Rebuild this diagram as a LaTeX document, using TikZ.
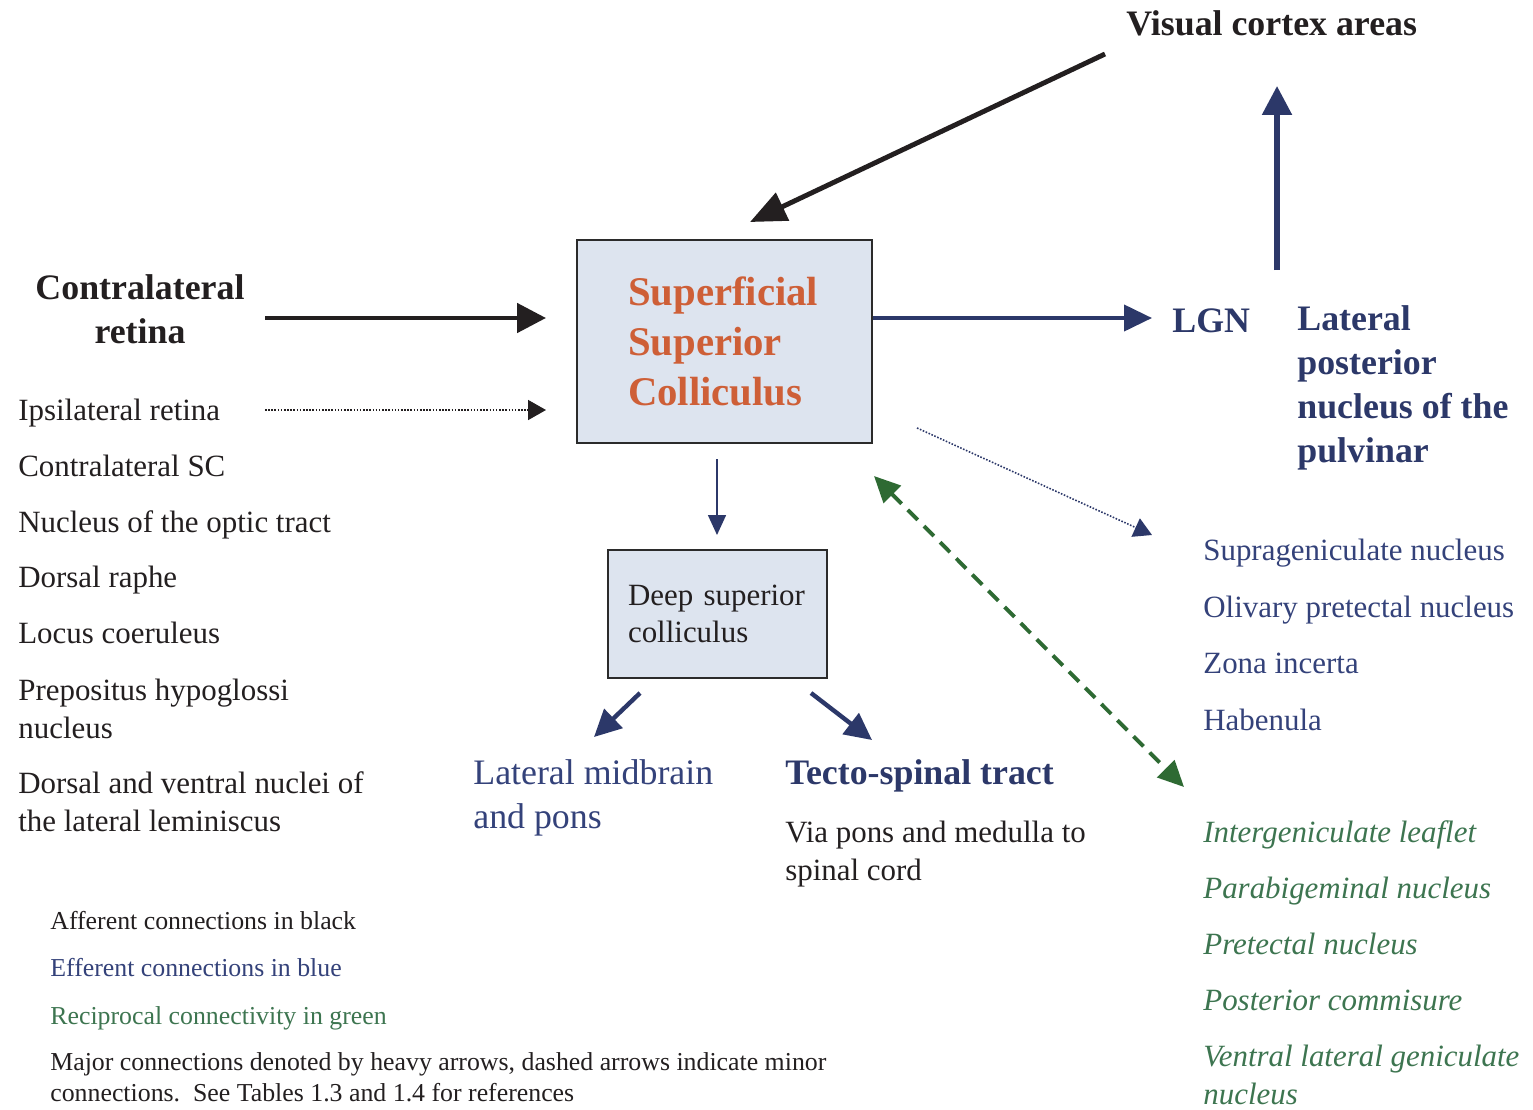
\documentclass[tikz,border=0pt]{standalone}
\usepackage{fontspec}
\setmainfont{Liberation Serif}
\usetikzlibrary{arrows.meta}
\definecolor{afferent}{HTML}{231F20}
\definecolor{efferent}{HTML}{2C3869}
\definecolor{efftext}{HTML}{34427A}
\definecolor{reciprocal}{HTML}{2E6A33}
\definecolor{rectext}{HTML}{3D7550}
\definecolor{sctext}{HTML}{CE5F37}
\definecolor{scfill}{HTML}{DDE4EF}
\definecolor{scedge}{HTML}{2B2B2B}

\newcommand{\fsnorm}{\fontsize{17.6}{21.5}\selectfont}
\newcommand{\fsbig}{\fontsize{20.4}{24.9}\selectfont}
\newcommand{\fshead}{\fontsize{23.2}{28.3}\selectfont}
\newcommand{\fsnote}{\fontsize{14.7}{17.6}\selectfont}

\begin{document}
\begin{tikzpicture}[x=0.02cm,y=-0.02cm,
  lbl/.style={anchor=base west,inner sep=0pt,align=left,font=\fsnorm,text=afferent},
  efflbl/.style={lbl,text=efftext},
  reclbl/.style={lbl,text=rectext,font=\fsnorm\itshape},
  bigeff/.style={lbl,text=efferent,font=\fsbig\bfseries},
  note/.style={lbl,font=\fsnote},
  scbox/.style={draw=scedge,line width=1.1pt,fill=scfill,inner sep=0pt,align=left},
  heavy/.style={line width=2.8pt,-{Triangle[length=0.58cm,width=0.58cm]}},
  minor/.style={line width=0.9pt,dash pattern=on 0.9pt off 0.9pt,-{Triangle[length=0.36cm,width=0.4cm]}},
  recip/.style={reciprocal,line width=2.2pt,dash pattern=on 8pt off 5pt,
    {Triangle[length=0.52cm,width=0.48cm]}-{Triangle[length=0.52cm,width=0.48cm]}}]
  \path[fill=white,use as bounding box] (0,0) rectangle (1533,1109);

  % colliculus boxes
  \node[scbox,minimum width=5.9cm,minimum height=4.06cm,text width=3.86cm,
    font=\fshead\bfseries,text=sctext] (ssc) at (724.5,341.5) {Superficial\\Superior\\Colliculus};
  \node[scbox,minimum width=4.38cm,minimum height=2.56cm,text width=3.58cm,
    font=\fsnorm,text=afferent] (dsc) at (717.5,614) {Deep superior\\colliculus};

  % afferents (multi-line labels sit on their last baseline)
  \node[anchor=base,inner sep=0pt,align=center,font=\fsbig\bfseries,text=afferent]
    (cret) at (140,343) {Contralateral\\retina};
  \node[lbl] (iret) at (18,420) {Ipsilateral retina};
  \node[lbl] (csc) at (18,476) {Contralateral SC};
  \node[lbl] (not) at (18,532) {Nucleus of the optic tract};
  \node[lbl] (draphe) at (18,587) {Dorsal raphe};
  \node[lbl] (lcoer) at (18,643) {Locus coeruleus};
  \node[lbl] (phyp) at (18,738) {Prepositus hypoglossi\\nucleus};
  \node[lbl] (dvll) at (18,831) {Dorsal and ventral nuclei of\\the lateral leminiscus};
  \node[lbl,font=\fsbig\bfseries] (vca) at (1126,35) {Visual cortex areas};

  % efferents
  \node[bigeff] (lgn) at (1172,332) {LGN};
  \node[bigeff] (lpn) at (1297,462) {Lateral\\posterior\\nucleus of the\\pulvinar};
  \node[efflbl] (supgen) at (1203,560) {Suprageniculate nucleus};
  \node[efflbl] (olipre) at (1203,617) {Olivary pretectal nucleus};
  \node[efflbl] (zona) at (1203,673) {Zona incerta};
  \node[efflbl] (haben) at (1203,730) {Habenula};
  \node[lbl,font=\fsbig,text=efftext] (lmp) at (473,828) {Lateral midbrain\\and pons};
  \node[bigeff] (tecto) at (785,784) {Tecto-spinal tract};
  \node[lbl] (viapons) at (785,880) {Via pons and medulla to\\spinal cord};

  % reciprocal
  \node[reclbl] (igl) at (1203,842) {Intergeniculate leaflet};
  \node[reclbl] (pbg) at (1203,898) {Parabigeminal nucleus};
  \node[reclbl] (ptn) at (1203,954) {Pretectal nucleus};
  \node[reclbl] (pcom) at (1203,1010) {Posterior commisure};
  \node[reclbl] (vlgn) at (1203,1104) {Ventral lateral geniculate\\nucleus};

  % key
  \node[note] (keyaff) at (50,929) {Afferent connections in black};
  \node[note,text=efftext] (keyeff) at (50,976) {Efferent connections in blue};
  \node[note,text=rectext] (keyrec) at (50,1024) {Reciprocal connectivity in green};
  \node[note] (keymaj) at (50,1101) {Major connections denoted by heavy arrows, dashed arrows indicate minor\\connections.\ \ See Tables 1.3 and 1.4 for references};

  % arrow ends
  \coordinate (vcafrom) at (1105,54);
  \coordinate (vcato) at (750,222);
  \coordinate (cretfrom) at (265,318);
  \coordinate (cretto) at (546,318);
  \coordinate (iretfrom) at (265,410);
  \coordinate (iretto) at (546,410);
  \coordinate (lgnto) at (1152,318);
  \coordinate (upfrom) at (1277,270);
  \coordinate (upto) at (1277,86);
  \coordinate (supfrom) at (917,428);
  \coordinate (supto) at (1152,535);
  \coordinate (recA) at (874,476);
  \coordinate (recB) at (1184,787);
  \coordinate (dscfrom) at (717,459);
  \coordinate (dscto) at (717,535);
  \coordinate (lmpfrom) at (640,693);
  \coordinate (lmpto) at (594,737);
  \coordinate (tectofrom) at (811,693);
  \coordinate (tectoto) at (872,740);

  \draw[heavy,afferent,-{Triangle[length=0.72cm,width=0.6cm]}] (vcafrom) -- (vcato);
  \draw[heavy,afferent] (cretfrom) -- (cretto);
  \draw[minor,afferent] (iretfrom) -- (iretto);
  \draw[heavy,efferent,line width=2.3pt,-{Triangle[length=0.56cm,width=0.52cm]}] (ssc.east |- lgnto) -- (lgnto);
  \draw[heavy,efferent,line width=3.1pt] (upfrom) -- (upto);
  \draw[minor,efferent] (supfrom) -- (supto);
  \draw[recip] (recA) -- (recB);
  \draw[efferent,line width=0.9pt,-{Triangle[length=0.4cm,width=0.36cm]}] (dscfrom) -- (dscto);
  \draw[heavy,efferent,line width=2.5pt,-{Triangle[length=0.54cm,width=0.52cm]}] (lmpfrom) -- (lmpto);
  \draw[heavy,efferent,line width=2.5pt,-{Triangle[length=0.54cm,width=0.52cm]}] (tectofrom) -- (tectoto);
\end{tikzpicture}
\end{document}
